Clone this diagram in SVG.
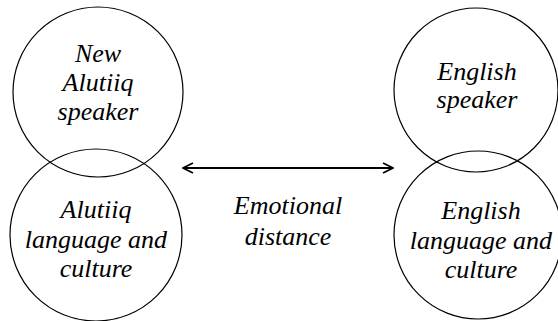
<svg xmlns="http://www.w3.org/2000/svg" width="558" height="321" viewBox="0 0 558 321">
<style>
.c{fill:none;stroke:#000;stroke-width:1.2}
.t{font-family:'Liberation Serif','Times New Roman',serif;font-style:italic;font-size:26px;fill:#000;text-anchor:middle}
</style>
<defs>
<marker id="ah" viewBox="0 0 12 12" refX="11" refY="6" markerWidth="12" markerHeight="12" markerUnits="userSpaceOnUse" orient="auto-start-reverse">
<path d="M1,1 L11,6 L1,11" fill="none" stroke="#000" stroke-width="1.8"/>
</marker>
</defs>
<rect width="558" height="321" fill="#fff"/>
<g id="new-alutiiq-speaker">
<circle class="c" cx="98" cy="92" r="85"/>
<text class="t" x="98" y="62">New</text>
<text class="t" x="98" y="91">Alutiiq</text>
<text class="t" x="98" y="120">speaker</text>
</g>
<g id="alutiiq-language">
<circle class="c" cx="96" cy="235" r="86"/>
<text class="t" x="96" y="218">Alutiiq</text>
<text class="t" x="96" y="248">language and</text>
<text class="t" x="96" y="277">culture</text>
</g>
<g id="english-speaker">
<circle class="c" cx="476" cy="90" r="82"/>
<text class="t" x="477" y="80">English</text>
<text class="t" x="477" y="108">speaker</text>
</g>
<g id="english-language">
<circle class="c" cx="478" cy="235" r="84"/>
<text class="t" x="481" y="219">English</text>
<text class="t" x="481" y="249">language and</text>
<text class="t" x="481" y="278">culture</text>
</g>
<g id="emotional-distance">
<text class="t" x="288" y="214">Emotional</text>
<text class="t" x="288" y="245">distance</text>
</g>
<g id="connectors">
<line x1="183" y1="168" x2="393" y2="168" stroke="#000" stroke-width="2" marker-start="url(#ah)" marker-end="url(#ah)"/>
</g>
</svg>
